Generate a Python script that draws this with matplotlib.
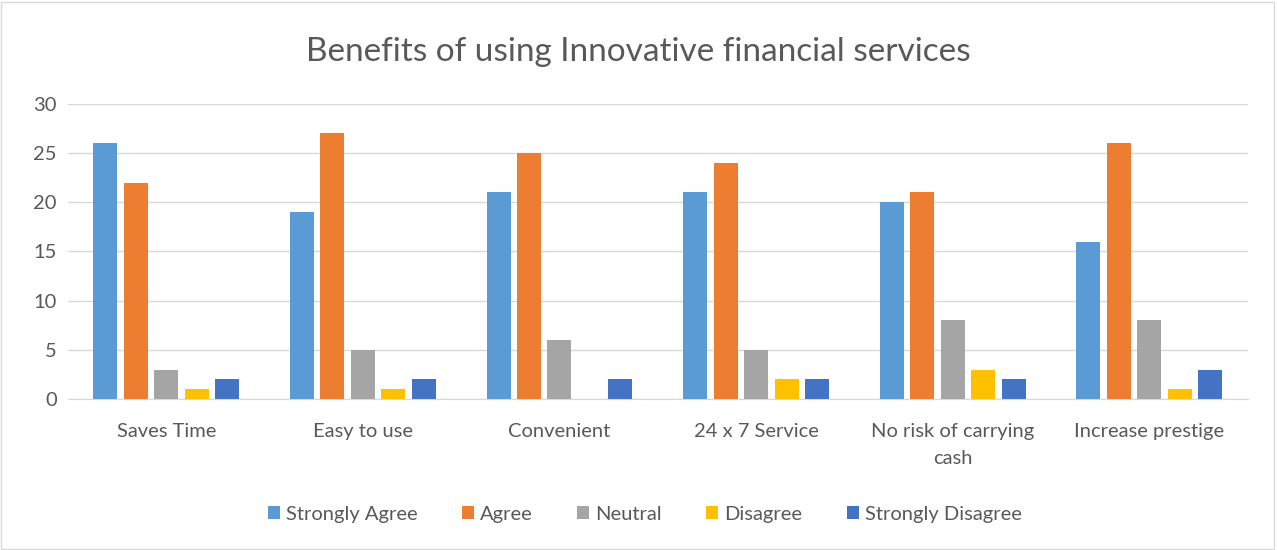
import numpy as np
import matplotlib
matplotlib.use('Agg')
import matplotlib.pyplot as plt
from matplotlib.patches import Rectangle

plt.rcParams['font.family'] = ['Lato', 'DejaVu Sans']

categories = ['Saves Time', 'Easy to use', 'Convenient', '24 x 7 Service',
              'No risk of carrying\ncash', 'Increase prestige']
series_names = ['Strongly Agree', 'Agree', 'Neutral', 'Disagree', 'Strongly Disagree']
strongly_agree = [26, 19, 21, 21, 20, 16]
agree = [22, 27, 25, 24, 21, 26]
neutral = [3, 5, 6, 5, 8, 8]
disagree = [1, 1, 0, 2, 3, 1]
strongly_disagree = [2, 2, 2, 2, 2, 3]
yticks = [0, 5, 10, 15, 20, 25, 30]

series = [strongly_agree, agree, neutral, disagree, strongly_disagree]
colors = ['#5B9BD5', '#ED7D31', '#A5A5A5', '#FFC000', '#4472C4']

fig = plt.figure(figsize=(12.77, 5.5), dpi=100)
fig.patches.append(Rectangle((0.001, 0.002), 0.997, 0.995, transform=fig.transFigure,
                             fill=False, edgecolor='#D9D9D9', linewidth=1))
ax = fig.add_axes([0.0532, 0.2745, 0.9238, 0.5365])

x = np.arange(len(categories))
step = 0.155
width = 0.122
for i, (vals, c, name) in enumerate(zip(series, colors, series_names)):
    ax.bar(x + (i - 2) * step, vals, width=width, color=c, label=name, zorder=3)

ax.set_xlim(-0.5, len(categories) - 0.5)
ax.set_ylim(0, 30)
ax.set_yticks(yticks)
ax.set_xticks(x)
ax.set_xticklabels(categories, fontsize=14.5, color='#595959', linespacing=1.75)
ax.tick_params(axis='y', labelsize=14.5, labelcolor='#595959', length=0, pad=8)
ax.tick_params(axis='x', length=0, pad=17)
ax.grid(axis='y', color='#D9D9D9', linewidth=1, zorder=0)
for s in ['top', 'right', 'left']:
    ax.spines[s].set_visible(False)
ax.spines['bottom'].set_color('#D9D9D9')

fig.text(0.5, 0.905, 'Benefits of using Innovative financial services', ha='center',
         va='center', fontsize=24, color='#595959')

fig.legend(loc='center', bbox_to_anchor=(0.505, 0.065), ncol=5, frameon=False,
           fontsize=14.5, handlelength=0.6, handleheight=0.6, handletextpad=0.3,
           columnspacing=2.2, labelcolor='#595959')

fig.savefig('out.png', dpi=100)
